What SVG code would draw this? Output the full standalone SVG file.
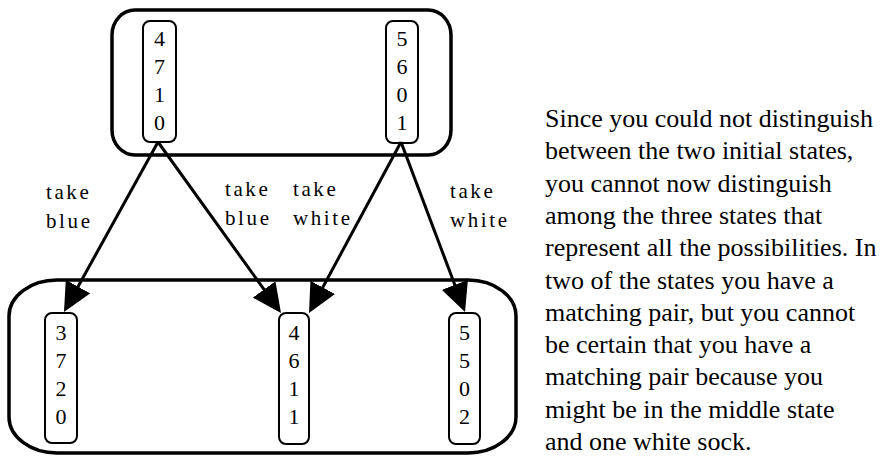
<svg xmlns="http://www.w3.org/2000/svg" width="887" height="465" viewBox="0 0 887 465">
<style>
  .outer { fill: none; stroke: #000; stroke-width: 3.5; }
  .state { fill: #fff; stroke: #000; stroke-width: 2; }
  .digit { font-size: 22px; text-anchor: middle; }
  .lbl { font-size: 21px; letter-spacing: 2.6px; }
  .para { font-size: 26px; }
  .edge { stroke: #000; stroke-width: 3; fill: none; marker-end: url(#arrow); }
</style>
<defs>
  <marker id="arrow" viewBox="0 0 29 28" refX="17" refY="14" markerWidth="29" markerHeight="28" markerUnits="userSpaceOnUse" orient="auto">
    <path d="M0,0 L29,14 L0,28 Z" fill="#000"/>
  </marker>
</defs>
<rect width="887" height="465" fill="#fff"/>

<g id="initial-group">
  <rect class="outer" x="112" y="10" width="339" height="145" rx="23" ry="25"/>
</g>
<g id="result-group">
  <rect class="outer" x="9" y="280" width="507" height="173" rx="48" ry="36"/>
</g>

<g font-family="Liberation Serif, Times New Roman, serif" fill="#000">
<g id="s4710">
  <rect class="state" x="143" y="21" width="33" height="121" rx="7"/>
  <text class="digit" x="159.5" y="46">4</text>
  <text class="digit" x="159.5" y="74">7</text>
  <text class="digit" x="159.5" y="102">1</text>
  <text class="digit" x="159.5" y="130">0</text>
</g>
<g id="s5601">
  <rect class="state" x="386" y="21" width="32" height="122" rx="7"/>
  <text class="digit" x="402" y="46">5</text>
  <text class="digit" x="402" y="74">6</text>
  <text class="digit" x="402" y="102">0</text>
  <text class="digit" x="402" y="130">1</text>
</g>
<g id="s3720">
  <rect class="state" x="45" y="313" width="32" height="130" rx="7"/>
  <text class="digit" x="61" y="340">3</text>
  <text class="digit" x="61" y="368">7</text>
  <text class="digit" x="61" y="396">2</text>
  <text class="digit" x="61" y="424">0</text>
</g>
<g id="s4611">
  <rect class="state" x="279" y="313" width="30" height="131" rx="7"/>
  <text class="digit" x="294" y="340">4</text>
  <text class="digit" x="294" y="368">6</text>
  <text class="digit" x="294" y="396">1</text>
  <text class="digit" x="294" y="424">1</text>
</g>
<g id="s5502">
  <rect class="state" x="449" y="313" width="31" height="131" rx="7"/>
  <text class="digit" x="464.5" y="340">5</text>
  <text class="digit" x="464.5" y="368">5</text>
  <text class="digit" x="464.5" y="396">0</text>
  <text class="digit" x="464.5" y="424">2</text>
</g>

<g id="connectors">
  <line class="edge" x1="158" y1="142" x2="69.8" y2="301.5"/>
  <line class="edge" x1="158" y1="142" x2="274.0" y2="303.3"/>
  <line class="edge" x1="401" y1="142" x2="314.7" y2="302.4"/>
  <line class="edge" x1="401" y1="142" x2="460.8" y2="300.8"/>
  <text class="lbl" x="46" y="199">take</text>
  <text class="lbl" x="46" y="228">blue</text>
  <text class="lbl" x="225" y="196">take</text>
  <text class="lbl" x="225" y="225">blue</text>
  <text class="lbl" x="293" y="196">take</text>
  <text class="lbl" x="293" y="225">white</text>
  <text class="lbl" x="450" y="198">take</text>
  <text class="lbl" x="450" y="227">white</text>
</g>

<g id="caption">
  <text class="para" x="545" y="127">Since you could not distinguish</text>
  <text class="para" x="545" y="159.3">between the two initial states,</text>
  <text class="para" x="545" y="191.6">you cannot now distinguish</text>
  <text class="para" x="545" y="223.9">among the three states that</text>
  <text class="para" x="545" y="256.2">represent all the possibilities. In</text>
  <text class="para" x="545" y="288.5">two of the states you have a</text>
  <text class="para" x="545" y="320.8">matching pair, but you cannot</text>
  <text class="para" x="545" y="353.1">be certain that you have a</text>
  <text class="para" x="545" y="385.4">matching pair because you</text>
  <text class="para" x="545" y="417.7">might be in the middle state</text>
  <text class="para" x="545" y="450">and one white sock.</text>
</g>
</g>
</svg>
